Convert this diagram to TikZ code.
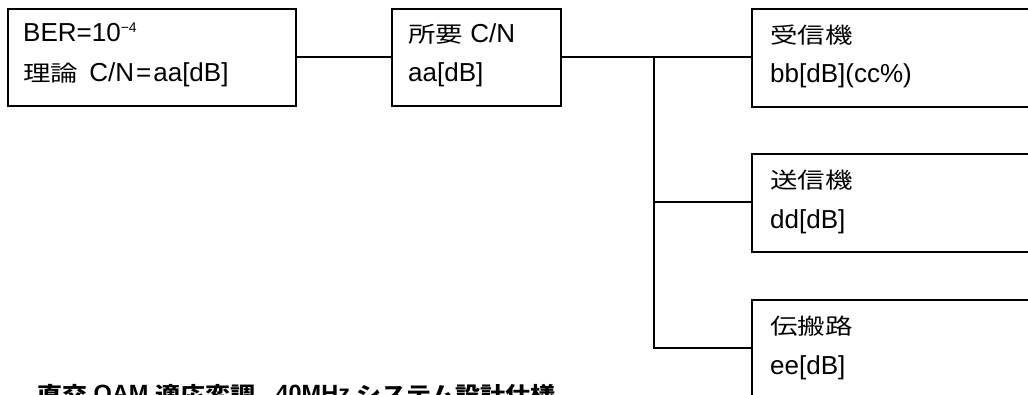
\documentclass[tikz,border=0pt]{standalone}
\usepackage{fontspec}
\setmainfont{Liberation Sans}
\newfontfamily\myjpfont[FakeStretch=1.25]{Noto Sans CJK JP}
\newcommand\jp[1]{{\myjpfont\fontsize{22}{24}\selectfont #1}}
\newcommand\jpcap[1]{{\myjpfont\bfseries\fontsize{20}{22}\selectfont #1}}
\begin{document}
\begin{tikzpicture}[x=1pt,y=-1pt,
  box/.style={draw=black,line width=1.5pt,inner sep=0pt,anchor=north west},
  lbl/.style={anchor=base west,inner sep=0pt,font=\fontsize{26}{28}\selectfont},
  captxt/.style={anchor=base west,inner sep=0pt,font=\fontsize{23.5}{25}\selectfont\bfseries},
  wire/.style={line width=1.5pt}]
\useasboundingbox (0,0) rectangle (1028,394);
\clip (0,0) rectangle (1028,394);
% boxes
\node[box,minimum width=288pt,minimum height=97pt] (b1) at (7,8) {};
\node[box,minimum width=169pt,minimum height=97pt] (b2) at (391,8) {};
\node[box,minimum width=300pt,minimum height=98pt] (rx) at (751,8) {};
\node[box,minimum width=300pt,minimum height=98pt] (tx) at (751,153) {};
\node[box,minimum width=300pt,minimum height=98pt] (ch) at (751,299) {};
% texts
\node[lbl] (t1a) at (23,41) {BER=10\raisebox{9pt}{\fontsize{14}{16}\selectfont −4}};
\node[lbl] (t1b) at (23,81) {\jp{理論}\hspace{4pt} C/N\hspace{2pt}=\hspace{2pt}aa[dB]};
\node[lbl] (t2a) at (408,42) {\jp{所要} C/N};
\node[lbl] (t2b) at (408,81) {aa[dB]};
\node[lbl] (t3a) at (770,43) {\jp{受信機}};
\node[lbl] (t3b) at (770,82) {bb[dB](cc\%)};
\node[lbl] (t4a) at (770,188) {\jp{送信機}};
\node[lbl] (t4b) at (770,228) {dd[dB]};
\node[lbl] (t5a) at (770,334) {\jp{伝搬路}};
\node[lbl] (t5b) at (770,374) {ee[dB]};
\node[captxt] (caption) at (37,401) {\jpcap{直交} QAM \jpcap{適応変調}\hspace{14pt} 40MHz \jpcap{システム設計仕様}};
% connectors
\coordinate (j) at (654,57);
\coordinate (jt) at (654,202);
\coordinate (jb) at (654,348);
\draw[wire] (b1.east |- j) -- (b2.west |- j);
\draw[wire] (b2.east |- j) -- (rx.west |- j);
\draw[wire] (j) -- (jb) -- (ch.west |- jb);
\draw[wire] (jt) -- (tx.west |- jt);
\end{tikzpicture}
\end{document}
